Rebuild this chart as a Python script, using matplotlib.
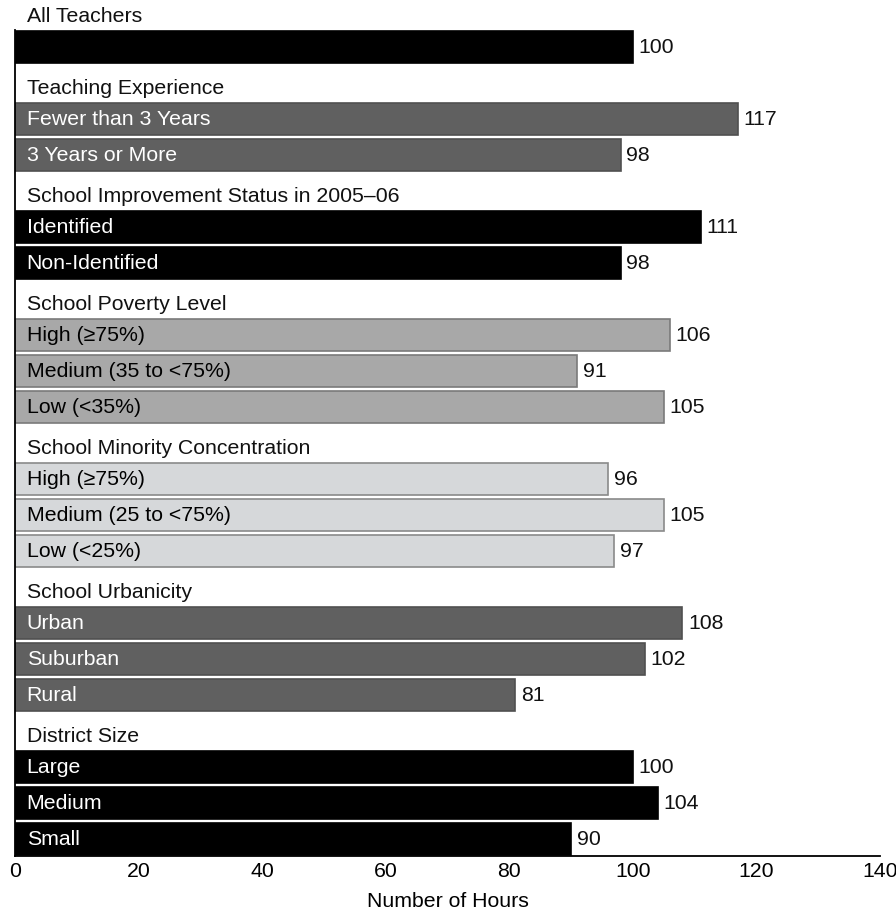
"""Average hours of professional development, by teacher and school characteristics."""
import matplotlib
matplotlib.use("Agg")
import matplotlib.pyplot as plt

plt.rcParams["font.family"] = ["Liberation Sans", "DejaVu Sans"]

groups = ["All Teachers", "Teaching Experience", "School Improvement Status in 2005\u201306",
          "School Poverty Level", "School Minority Concentration",
          "School Urbanicity", "District Size"]
labels = [[""],
          ["Fewer than 3 Years", "3 Years or More"],
          ["Identified", "Non-Identified"],
          ["High (\u226575%)", "Medium (35 to <75%)", "Low (<35%)"],
          ["High (\u226575%)", "Medium (25 to <75%)", "Low (<25%)"],
          ["Urban", "Suburban", "Rural"],
          ["Large", "Medium", "Small"]]
hours = [[100], [117, 98], [111, 98], [106, 91, 105], [96, 105, 97],
         [108, 102, 81], [100, 104, 90]]

# fill, edge, text colour per group
styles = [("#000000", "#000000", "white"),
          ("#606060", "#505050", "white"),
          ("#000000", "#000000", "white"),
          ("#a8a8a8", "#7a7a7a", "black"),
          ("#d6d8da", "#8a8a8a", "black"),
          ("#606060", "#505050", "white"),
          ("#000000", "#000000", "white")]

fig = plt.figure(figsize=(8.96, 9.13), dpi=100)
ax = fig.add_axes([0.0167, 0.0624, 0.9655, 0.9046])
fs = 15.3

pos = -1
for g, (name, labs, vals, (fc, ec, tc)) in enumerate(zip(groups, labels, hours, styles)):
    ax.text(1.9, pos + 0.14, name, ha="left", va="center", fontsize=fs,
            color="#111111", clip_on=False)
    pos += 1
    for lab, v in zip(labs, vals):
        ax.barh(pos, v, height=0.89, color=fc, edgecolor=ec, linewidth=1.2)
        if lab:
            ax.text(1.9, pos, lab, ha="left", va="center", fontsize=fs, color=tc)
        ax.text(v + 0.9, pos, str(v), ha="left", va="center", fontsize=fs,
                color="#111111")
        pos += 1

ax.set_xlim(0, 140)
ax.set_ylim(22.47, -0.47)
ax.set_xticks(range(0, 141, 20))
ax.set_yticks([])
ax.tick_params(axis="x", length=0, pad=4, labelsize=fs)
for s in ["top", "right"]:
    ax.spines[s].set_visible(False)
for s in ["left", "bottom"]:
    ax.spines[s].set_linewidth(1.3)
ax.set_xlabel("Number of Hours", fontsize=fs, labelpad=8)

fig.savefig("out.png", dpi=100)
